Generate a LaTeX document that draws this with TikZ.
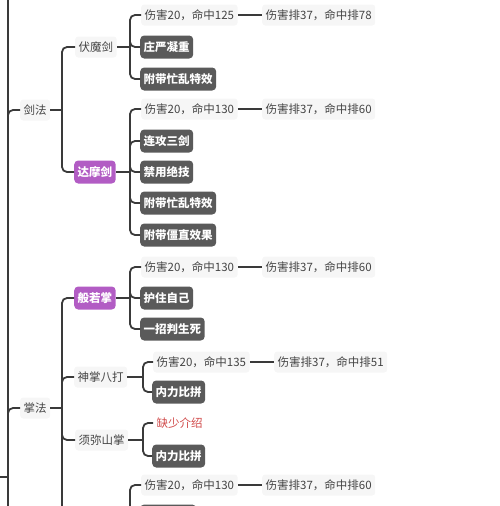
\documentclass[tikz,border=0pt]{standalone}
\usepackage{fontspec}
\setmainfont{Noto Sans CJK SC}
\newcommand\myfs{\fontsize{11.5}{13}\selectfont}
\definecolor{linec}{HTML}{3A3A3A}
\definecolor{lightf}{HTML}{F6F6F6}
\definecolor{textc}{HTML}{444444}
\definecolor{darkf}{HTML}{5A5A5A}
\definecolor{purp}{HTML}{B25CC4}
\definecolor{redc}{HTML}{D04A4A}
\begin{document}
\begin{tikzpicture}[x=1pt,y=-1pt,
  lnk/.style={draw=linec, line width=1.8pt, rounded corners=5pt},
  lt/.style={fill=lightf, text=textc, rounded corners=3pt, inner xsep=3.5pt, inner ysep=0pt, minimum height=21pt, anchor=west, font=\myfs},
  dk/.style={fill=darkf, text=white, rounded corners=4pt, inner xsep=3.5pt, inner ysep=0pt, minimum height=23pt, anchor=west, font=\myfs\bfseries},
  pp/.style={dk, fill=purp},
  rd/.style={lt, fill=none, text=redc}]
\useasboundingbox (0,0) rectangle (500,506);
\clip (0,0) rectangle (500,506);
% spine coordinates
\coordinate (s0) at (8,0);
\coordinate (s1) at (62,0);
\coordinate (sA) at (130,0);
\coordinate (sB) at (143,0);
\coordinate (root) at (0,477);
\coordinate (topend) at (8,-10);
\coordinate (botend) at (8,520);
% level 1
\node[lt] (jf) at (20,110) {剑法};
\node[lt] (zf) at (20,408) {掌法};
% level 2
\node[lt] (fmj) at (75,47) {伏魔剑};
\node[pp] (dmj) at (74,172) {达摩剑};
\node[pp] (bry) at (74,298) {般若掌};
\node[lt] (szbd) at (74,377) {神掌八打};
\node[lt] (xmsz) at (75,440) {须弥山掌};
\coordinate (hidp) at (118,516);
\coordinate (hid) at (74,516);
% level 3
\node[lt] (a1) at (141,15) {伤害20，命中125};
\node[dk] (a2) at (140,47) {庄严凝重};
\node[dk] (a3) at (140,79) {附带忙乱特效};
\node[lt] (b1) at (141,109) {伤害20，命中130};
\node[dk] (b2) at (140,141) {连攻三剑};
\node[dk] (b3) at (140,172) {禁用绝技};
\node[dk] (b4) at (140,203) {附带忙乱特效};
\node[dk] (b5) at (140,235) {附带僵直效果};
\node[lt] (c1) at (141,267) {伤害20，命中130};
\node[dk] (c2) at (140,298) {护住自己};
\node[dk] (c3) at (140,329) {一招判生死};
\node[lt] (d1) at (153,362) {伤害20，命中135};
\node[dk] (d2) at (152,392) {内力比拼};
\node[rd] (e1) at (153,423) {缺少介绍};
\node[dk] (e2) at (152,456) {内力比拼};
\node[lt] (g1) at (141,485) {伤害20，命中130};
\node[dk, minimum width=56pt] (g2) at (140,516) {};
% level 4
\node[lt] (a1b) at (262,15) {伤害排37，命中排78};
\node[lt] (b1b) at (262,109) {伤害排37，命中排60};
\node[lt] (c1b) at (262,267) {伤害排37，命中排60};
\node[lt] (d1b) at (274,362) {伤害排37，命中排51};
\node[lt] (g1b) at (262,485) {伤害排37，命中排60};
% root spine
\draw[lnk] (topend) -- (botend);
\draw[lnk] (root) -- (root -| s0);
\draw[lnk] (root -| s0) |- (jf.west);
\draw[lnk] (root -| s0) |- (zf.west);
% level 2 connectors
\draw[lnk] (jf.east) -- (jf.east -| s1);
\draw[lnk] (jf.east -| s1) |- (fmj.west);
\draw[lnk] (jf.east -| s1) |- (dmj.west);
\draw[lnk] (zf.east) -- (zf.east -| s1);
\draw[lnk] (zf.east -| s1) |- (bry.west);
\draw[lnk] (zf.east -| s1) |- (szbd.west);
\draw[lnk] (zf.east -| s1) |- (xmsz.west);
\draw[lnk] (zf.east -| s1) |- (hid);
% level 3 connectors
\foreach \p/\s/\cs in {fmj/sA/{a1,a2,a3}, dmj/sA/{b1,b2,b3,b4,b5}, bry/sA/{c1,c2,c3}, szbd/sB/{d1,d2}, xmsz/sB/{e1,e2}}{
  \draw[lnk] (\p.east) -- (\p.east -| \s);
  \foreach \c in \cs { \draw[lnk] (\p.east -| \s) |- (\c.west); }
}
\draw[lnk] (hidp) -- (hidp -| sA);
\draw[lnk] (hidp -| sA) |- (g1.west);
\draw[lnk] (hidp -| sA) |- (g2.west);
% level 4 connectors
\draw[lnk] (a1.east) -- (a1b.west);
\draw[lnk] (b1.east) -- (b1b.west);
\draw[lnk] (c1.east) -- (c1b.west);
\draw[lnk] (d1.east) -- (d1b.west);
\draw[lnk] (g1.east) -- (g1b.west);
\end{tikzpicture}
\end{document}
